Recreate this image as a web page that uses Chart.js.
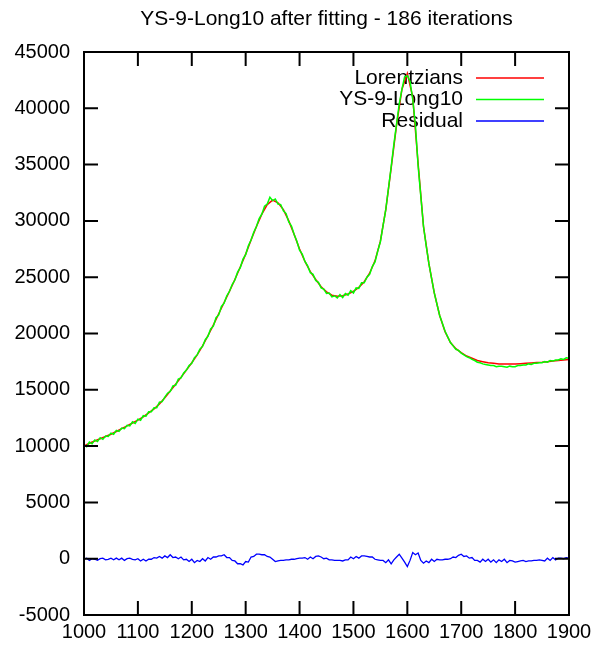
<!DOCTYPE html>
<html>
<head>
<meta charset="utf-8">
<script src="https://cdn.jsdelivr.net/npm/chart.js@4.4.0/dist/chart.umd.min.js"></script>
<style>
  html, body { margin: 0; padding: 0; background: #fff; }
</style>
</head>
<body>
<canvas id="fitChart" width="601" height="650"></canvas>
<script>
const chartTitle = 'YS-9-Long10 after fitting - 186 iterations';
const seriesNames = ['Lorentzians', 'YS-9-Long10', 'Residual'];
const seriesColors = ['#ff0000', '#00ff00', '#0000ff'];

const xMin = 1000, xMax = 1900, xTickStep = 100;
const yMin = -5000, yMax = 45000, yTickStep = 5000;

// Lorentzian fit, one value every 10 from 1000
const fitStart = 1000, fitStep = 10;
const fitValues = [
    10000, 10250, 10450, 10650, 10850, 11050, 11300, 11550, 11800, 12050,
    12300, 12600, 12950, 13300, 13750, 14300, 14900, 15500, 16100, 16750,
    17400, 18100, 18900, 19800, 20750, 21750, 22750, 23750, 24800, 25900,
    27050, 28300, 29500, 30600, 31450, 31850, 31600, 31000, 30000, 28800,
    27500, 26400, 25500, 24800, 24150, 23700, 23400, 23300, 23350, 23500,
    23750, 24100, 24600, 25350, 26450, 28200, 31000, 34700, 38500, 41700,
    43100, 41000, 35100, 29500, 26200, 23600, 21600, 20150, 19200, 18650,
    18300, 18000, 17800, 17600, 17500, 17400, 17350, 17300, 17300, 17300,
    17300, 17320, 17350, 17380, 17420, 17450, 17500, 17550, 17600, 17650,
    17700
];

// measured spectrum and residual, one value every 5 from 1000
const dataStart = 1000, dataStep = 5;
const spectrumValues = [
    10100, 9950, 10350, 10200, 10550, 10400, 10750, 10600, 10900, 10850,
    11150, 11050, 11400, 11300, 11600, 11550, 11850, 11800, 12150, 12000,
    12400, 12300, 12700, 12650, 13050, 13050, 13400, 13400, 13900, 13950,
    14350, 14700, 14850, 15350, 15400, 15950, 16050, 16500, 16750, 17150,
    17350, 17850, 18100, 18600, 18850, 19450, 19750, 20400, 20650, 21400,
    21650, 22400, 22700, 23350, 23750, 24350, 24750, 25450, 25850, 26600,
    27000, 27800, 28300, 29000, 29500, 30200, 30600, 31300, 31500, 32100,
    31800, 31950, 31500, 31450, 30900, 30650, 29900, 29550, 28800, 28200,
    27400, 27050, 26400, 26000, 25400, 25250, 24700, 24550, 24050, 23950,
    23550, 23600, 23250, 23350, 23150, 23450, 23200, 23550, 23400, 23800,
    23600, 24050, 24000, 24500, 24500, 25000, 25250, 25950, 26350, 27300,
    28150, 29600, 31000, 32900, 34800, 36800, 38600, 40400, 41700, 42800,
    42900, 42400, 40800, 38500, 34900, 32200, 29500, 27800, 26200, 24900,
    23600, 22600, 21600, 20900, 20200, 19700, 19200, 18900, 18600, 18500,
    18250, 18100, 17950, 17850, 17700, 17600, 17450, 17400, 17300, 17250,
    17200, 17150, 17150, 17050, 17100, 17100, 17050, 17000, 17100, 17050,
    17050, 17150, 17150, 17200, 17200, 17300, 17250, 17350, 17350, 17400,
    17400, 17500, 17450, 17600, 17550, 17650, 17650, 17750, 17700, 17850,
    17800
];
const residualValues = [
    -50, 50, -150, 0, -50, -150, 0, 50, -100, -50,
    50, -100, 50, -100, 50, -150, 0, 50, -50, -100,
    0, -200, -50, -200, -50, -50, 100, 50, 200, 50,
    250, 100, 350, 100, 150, 0, 150, -100, -50, -250,
    -50, -350, -150, -250, 0, -200, 100, -50, 150, 150,
    250, 250, 350, 100, 100, -150, -200, -450, -450, -550,
    -250, -300, 150, 200, 400, 400, 350, 350, 200, 150,
    -50, -250, -200, -150, -150, -100, -100, -50, -50, 0,
    50, 50, 100, -50, 150, 0, 200, 250, 150, 0,
    50, -100, -100, -150, -150, -150, -200, -100, -100, 150,
    0, 200, 50, 250, 250, 200, 150, 150, -50, -100,
    -150, -150, -350, -100, -450, -100, 150, 400, 50, -300,
    -700, -150, 550, 350, 500, -150, -400, -200, -350, -50,
    -250, -50, -100, -100, -50, -50, 0, 150, 100, 300,
    400, 200, 250, 50, 100, -150, -150, -300, -50, -250,
    -50, -300, -100, -350, -100, -250, -50, -350, -150, -200,
    -300, -250, -200, -150, -250, -200, -200, -150, -150, -100,
    -150, -200, 50, -150, 100, -100, 50, 50, 0, 100,
    50
];

const FONT = 'Liberation Sans, Arial, Helvetica, sans-serif';

function toPoints(start, step, values) {
    return values.map((v, i) => ({ x: start + i * step, y: v }));
}

// box around the plot with inward ticks on all four sides
const framePlugin = {
    id: 'frame',
    afterDatasetsDraw(chart) {
        const { ctx, chartArea: a, scales } = chart;
        const len = 14;
        ctx.save();
        ctx.strokeStyle = '#000';
        ctx.lineWidth = 2;
        ctx.beginPath();
        scales.x.ticks.forEach(t => {
            const px = scales.x.getPixelForValue(t.value);
            ctx.moveTo(px, a.bottom); ctx.lineTo(px, a.bottom - len);
            ctx.moveTo(px, a.top); ctx.lineTo(px, a.top + len);
        });
        scales.y.ticks.forEach(t => {
            const py = scales.y.getPixelForValue(t.value);
            ctx.moveTo(a.left, py); ctx.lineTo(a.left + len, py);
            ctx.moveTo(a.right, py); ctx.lineTo(a.right - len, py);
        });
        ctx.stroke();
        ctx.strokeRect(a.left, a.top, a.right - a.left, a.bottom - a.top);
        ctx.restore();
    }
};

// gnuplot style key (text right aligned, sample line on the right) and title
const keyPlugin = {
    id: 'key',
    beforeDatasetsDraw(chart) {
        const { ctx, chartArea: a } = chart;
        ctx.save();
        ctx.font = '21px ' + FONT;
        ctx.fillStyle = '#000';
        ctx.textAlign = 'center';
        ctx.textBaseline = 'middle';
        ctx.fillText(chartTitle, (a.left + a.right) / 2, 19);

        ctx.textAlign = 'right';
        seriesNames.forEach((name, i) => {
            const y = 78 + i * 21.5;
            ctx.fillStyle = '#000';
            ctx.fillText(name, 463, y);
            ctx.strokeStyle = seriesColors[i];
            ctx.lineWidth = 1.5;
            ctx.beginPath();
            ctx.moveTo(476, y);
            ctx.lineTo(544, y);
            ctx.stroke();
        });
        ctx.restore();
    }
};

new Chart(document.getElementById('fitChart'), {
    type: 'line',
    data: {
        datasets: [
            {
                label: seriesNames[0],
                data: toPoints(fitStart, fitStep, fitValues),
                borderColor: seriesColors[0],
                borderWidth: 1.5,
                order: 2
            },
            {
                label: seriesNames[1],
                data: toPoints(dataStart, dataStep, spectrumValues),
                borderColor: seriesColors[1],
                borderWidth: 1.5,
                order: 1
            },
            {
                label: seriesNames[2],
                data: toPoints(dataStart, dataStep, residualValues),
                borderColor: seriesColors[2],
                borderWidth: 1.3,
                order: 0
            }
        ]
    },
    options: {
        responsive: false,
        animation: false,
        layout: { padding: { top: 52, right: 32, left: 0, bottom: 0 } },
        elements: {
            point: { radius: 0 },
            line: { tension: 0, fill: false }
        },
        plugins: {
            legend: { display: false },
            title: { display: false },
            tooltip: { enabled: false }
        },
        scales: {
            x: {
                type: 'linear',
                min: xMin,
                max: xMax,
                afterFit: s => { s.height = 35; },
                grid: { display: false, drawTicks: false },
                border: { display: false },
                ticks: {
                    stepSize: xTickStep,
                    padding: 5,
                    color: '#000',
                    maxRotation: 0,
                    autoSkip: false,
                    font: { family: FONT, size: 20 },
                    callback: v => String(v)
                }
            },
            y: {
                type: 'linear',
                min: yMin,
                max: yMax,
                afterFit: s => { s.width = 84; },
                grid: { display: false, drawTicks: false },
                border: { display: false },
                ticks: {
                    stepSize: yTickStep,
                    padding: 14,
                    color: '#000',
                    autoSkip: false,
                    font: { family: FONT, size: 20 },
                    callback: v => String(v)
                }
            }
        }
    },
    plugins: [keyPlugin, framePlugin]
});
</script>
</body>
</html>
